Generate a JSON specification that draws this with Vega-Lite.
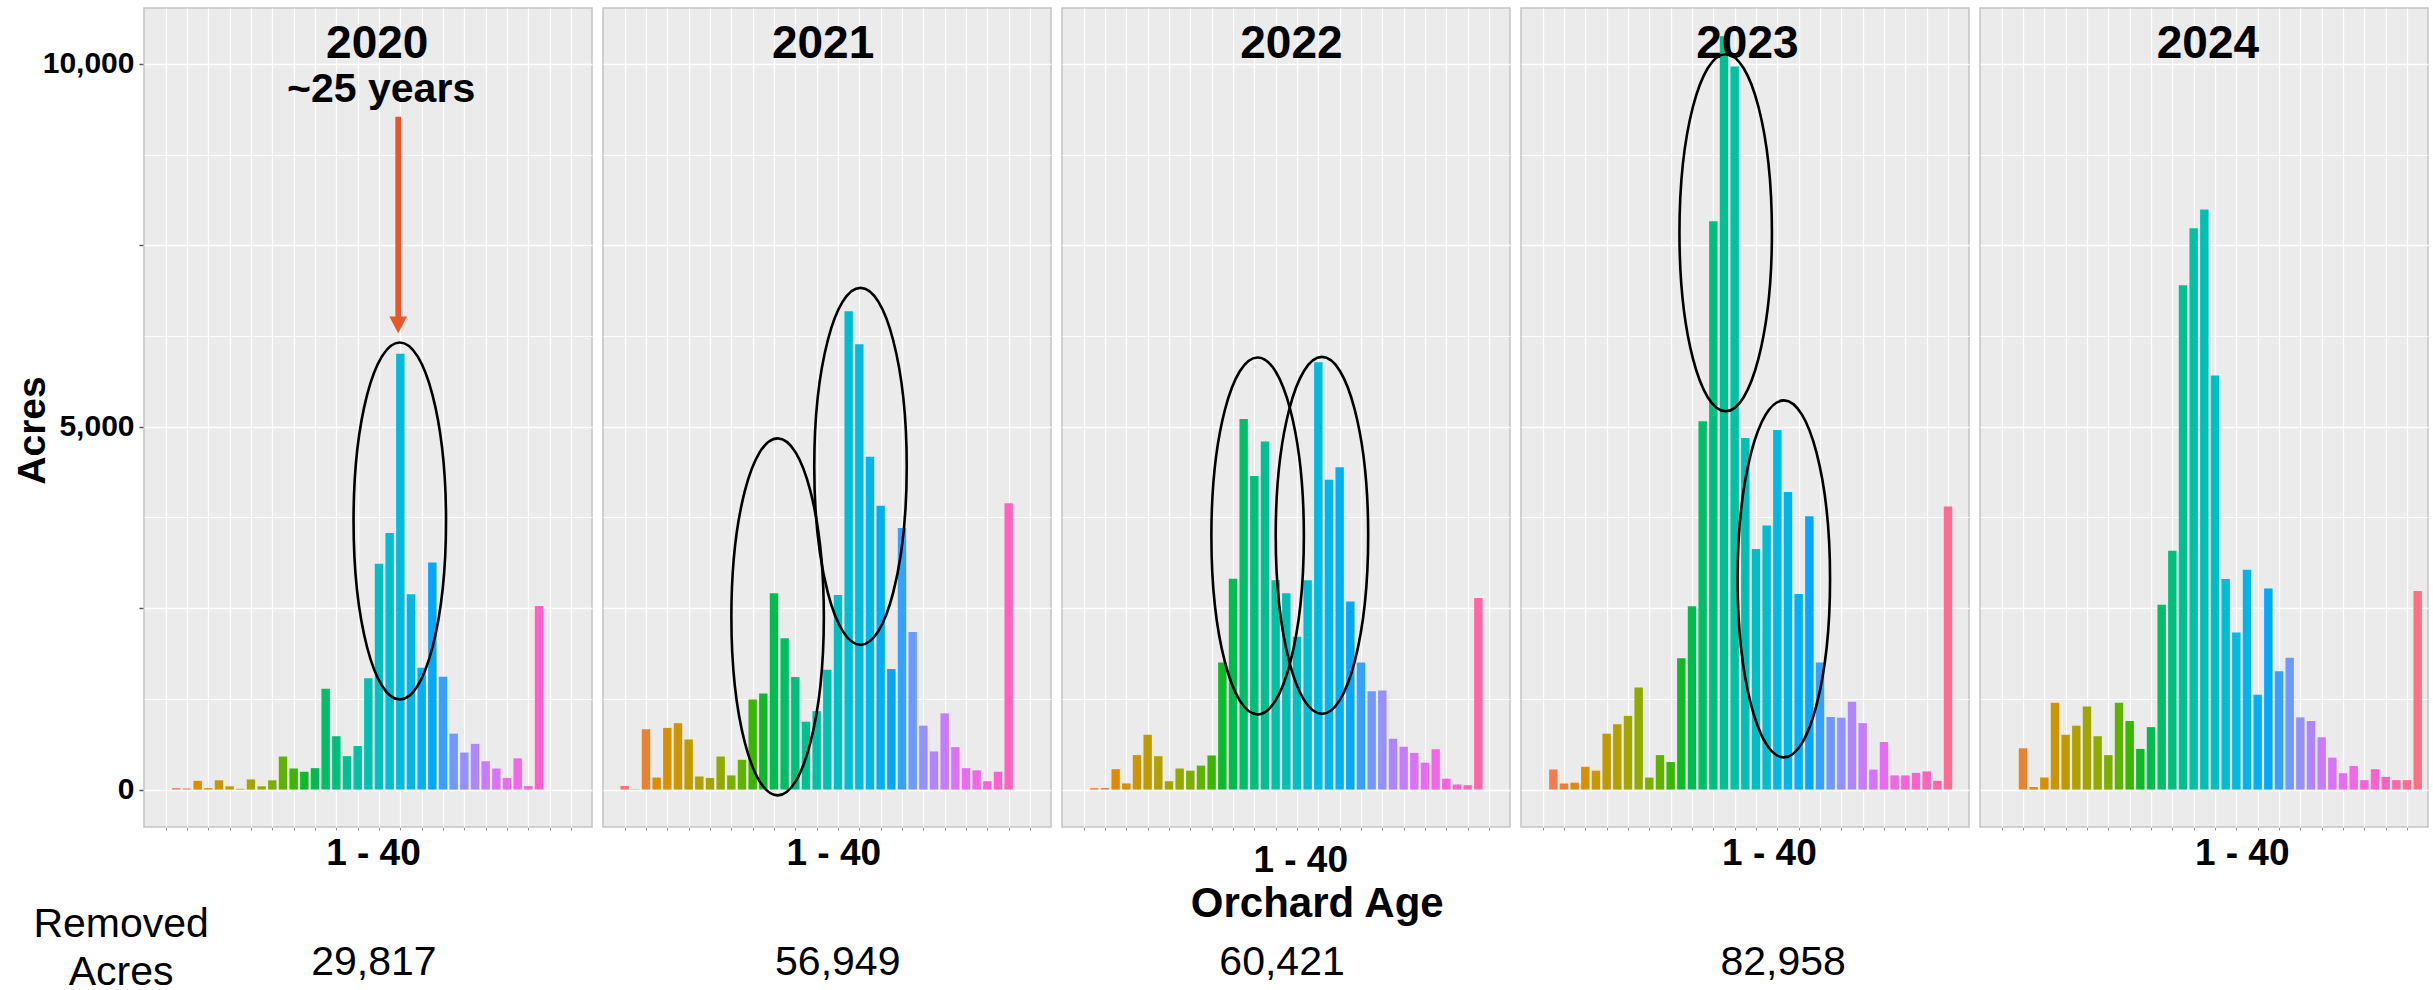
{
  "$schema": "https://vega.github.io/schema/vega-lite/v6.json",
  "background": "white",
  "padding": {"left": 13, "top": 7, "right": 0, "bottom": 0},
  "autosize": {"type": "pad"},
  "config": {
    "font": "Liberation Sans",
    "view": {"fill": "#EBEBEB", "stroke": "#C4C4C4", "strokeWidth": 1.5}
  },
  "data": {
    "values": [
      {"kind": "bar", "year": 2020, "age": 2, "acres": 20},
      {"kind": "bar", "year": 2020, "age": 3, "acres": 15},
      {"kind": "bar", "year": 2020, "age": 4, "acres": 120},
      {"kind": "bar", "year": 2020, "age": 5, "acres": 20},
      {"kind": "bar", "year": 2020, "age": 6, "acres": 128},
      {"kind": "bar", "year": 2020, "age": 7, "acres": 45},
      {"kind": "bar", "year": 2020, "age": 8, "acres": 10},
      {"kind": "bar", "year": 2020, "age": 9, "acres": 140},
      {"kind": "bar", "year": 2020, "age": 10, "acres": 45},
      {"kind": "bar", "year": 2020, "age": 11, "acres": 127},
      {"kind": "bar", "year": 2020, "age": 12, "acres": 455},
      {"kind": "bar", "year": 2020, "age": 13, "acres": 290},
      {"kind": "bar", "year": 2020, "age": 14, "acres": 245},
      {"kind": "bar", "year": 2020, "age": 15, "acres": 295},
      {"kind": "bar", "year": 2020, "age": 16, "acres": 1390},
      {"kind": "bar", "year": 2020, "age": 17, "acres": 735},
      {"kind": "bar", "year": 2020, "age": 18, "acres": 460},
      {"kind": "bar", "year": 2020, "age": 19, "acres": 600},
      {"kind": "bar", "year": 2020, "age": 20, "acres": 1535},
      {"kind": "bar", "year": 2020, "age": 21, "acres": 3110},
      {"kind": "bar", "year": 2020, "age": 22, "acres": 3535},
      {"kind": "bar", "year": 2020, "age": 23, "acres": 6005},
      {"kind": "bar", "year": 2020, "age": 24, "acres": 2690},
      {"kind": "bar", "year": 2020, "age": 25, "acres": 1680},
      {"kind": "bar", "year": 2020, "age": 26, "acres": 3130},
      {"kind": "bar", "year": 2020, "age": 27, "acres": 1555},
      {"kind": "bar", "year": 2020, "age": 28, "acres": 770},
      {"kind": "bar", "year": 2020, "age": 29, "acres": 510},
      {"kind": "bar", "year": 2020, "age": 30, "acres": 630},
      {"kind": "bar", "year": 2020, "age": 31, "acres": 390},
      {"kind": "bar", "year": 2020, "age": 32, "acres": 290},
      {"kind": "bar", "year": 2020, "age": 33, "acres": 160},
      {"kind": "bar", "year": 2020, "age": 34, "acres": 430},
      {"kind": "bar", "year": 2020, "age": 35, "acres": 48},
      {"kind": "bar", "year": 2020, "age": 36, "acres": 2530},

      {"kind": "bar", "year": 2021, "age": 1, "acres": 50},
      {"kind": "bar", "year": 2021, "age": 2, "acres": 5},
      {"kind": "bar", "year": 2021, "age": 3, "acres": 830},
      {"kind": "bar", "year": 2021, "age": 4, "acres": 165},
      {"kind": "bar", "year": 2021, "age": 5, "acres": 850},
      {"kind": "bar", "year": 2021, "age": 6, "acres": 915},
      {"kind": "bar", "year": 2021, "age": 7, "acres": 690},
      {"kind": "bar", "year": 2021, "age": 8, "acres": 180},
      {"kind": "bar", "year": 2021, "age": 9, "acres": 160},
      {"kind": "bar", "year": 2021, "age": 10, "acres": 455},
      {"kind": "bar", "year": 2021, "age": 11, "acres": 195},
      {"kind": "bar", "year": 2021, "age": 12, "acres": 410},
      {"kind": "bar", "year": 2021, "age": 13, "acres": 1240},
      {"kind": "bar", "year": 2021, "age": 14, "acres": 1325},
      {"kind": "bar", "year": 2021, "age": 15, "acres": 2705},
      {"kind": "bar", "year": 2021, "age": 16, "acres": 2085},
      {"kind": "bar", "year": 2021, "age": 17, "acres": 1550},
      {"kind": "bar", "year": 2021, "age": 18, "acres": 935},
      {"kind": "bar", "year": 2021, "age": 19, "acres": 1080},
      {"kind": "bar", "year": 2021, "age": 20, "acres": 1650},
      {"kind": "bar", "year": 2021, "age": 21, "acres": 2680},
      {"kind": "bar", "year": 2021, "age": 22, "acres": 6590},
      {"kind": "bar", "year": 2021, "age": 23, "acres": 6135},
      {"kind": "bar", "year": 2021, "age": 24, "acres": 4585},
      {"kind": "bar", "year": 2021, "age": 25, "acres": 3910},
      {"kind": "bar", "year": 2021, "age": 26, "acres": 1660},
      {"kind": "bar", "year": 2021, "age": 27, "acres": 3605},
      {"kind": "bar", "year": 2021, "age": 28, "acres": 2170},
      {"kind": "bar", "year": 2021, "age": 29, "acres": 880},
      {"kind": "bar", "year": 2021, "age": 30, "acres": 525},
      {"kind": "bar", "year": 2021, "age": 31, "acres": 1050},
      {"kind": "bar", "year": 2021, "age": 32, "acres": 585},
      {"kind": "bar", "year": 2021, "age": 33, "acres": 295},
      {"kind": "bar", "year": 2021, "age": 34, "acres": 265},
      {"kind": "bar", "year": 2021, "age": 35, "acres": 115},
      {"kind": "bar", "year": 2021, "age": 36, "acres": 245},
      {"kind": "bar", "year": 2021, "age": 37, "acres": 3945},

      {"kind": "bar", "year": 2022, "age": 2, "acres": 20},
      {"kind": "bar", "year": 2022, "age": 3, "acres": 20},
      {"kind": "bar", "year": 2022, "age": 4, "acres": 280},
      {"kind": "bar", "year": 2022, "age": 5, "acres": 85},
      {"kind": "bar", "year": 2022, "age": 6, "acres": 475},
      {"kind": "bar", "year": 2022, "age": 7, "acres": 755},
      {"kind": "bar", "year": 2022, "age": 8, "acres": 460},
      {"kind": "bar", "year": 2022, "age": 9, "acres": 115},
      {"kind": "bar", "year": 2022, "age": 10, "acres": 290},
      {"kind": "bar", "year": 2022, "age": 11, "acres": 260},
      {"kind": "bar", "year": 2022, "age": 12, "acres": 330},
      {"kind": "bar", "year": 2022, "age": 13, "acres": 470},
      {"kind": "bar", "year": 2022, "age": 14, "acres": 1750},
      {"kind": "bar", "year": 2022, "age": 15, "acres": 2905},
      {"kind": "bar", "year": 2022, "age": 16, "acres": 5105},
      {"kind": "bar", "year": 2022, "age": 17, "acres": 4320},
      {"kind": "bar", "year": 2022, "age": 18, "acres": 4795},
      {"kind": "bar", "year": 2022, "age": 19, "acres": 2885},
      {"kind": "bar", "year": 2022, "age": 20, "acres": 2705},
      {"kind": "bar", "year": 2022, "age": 21, "acres": 2105},
      {"kind": "bar", "year": 2022, "age": 22, "acres": 2885},
      {"kind": "bar", "year": 2022, "age": 23, "acres": 5890},
      {"kind": "bar", "year": 2022, "age": 24, "acres": 4270},
      {"kind": "bar", "year": 2022, "age": 25, "acres": 4440},
      {"kind": "bar", "year": 2022, "age": 26, "acres": 2590},
      {"kind": "bar", "year": 2022, "age": 27, "acres": 1750},
      {"kind": "bar", "year": 2022, "age": 28, "acres": 1355},
      {"kind": "bar", "year": 2022, "age": 29, "acres": 1365},
      {"kind": "bar", "year": 2022, "age": 30, "acres": 700},
      {"kind": "bar", "year": 2022, "age": 31, "acres": 590},
      {"kind": "bar", "year": 2022, "age": 32, "acres": 505},
      {"kind": "bar", "year": 2022, "age": 33, "acres": 370},
      {"kind": "bar", "year": 2022, "age": 34, "acres": 555},
      {"kind": "bar", "year": 2022, "age": 35, "acres": 150},
      {"kind": "bar", "year": 2022, "age": 36, "acres": 70},
      {"kind": "bar", "year": 2022, "age": 37, "acres": 60},
      {"kind": "bar", "year": 2022, "age": 38, "acres": 2640},

      {"kind": "bar", "year": 2023, "age": 2, "acres": 275},
      {"kind": "bar", "year": 2023, "age": 3, "acres": 85},
      {"kind": "bar", "year": 2023, "age": 4, "acres": 95},
      {"kind": "bar", "year": 2023, "age": 5, "acres": 315},
      {"kind": "bar", "year": 2023, "age": 6, "acres": 260},
      {"kind": "bar", "year": 2023, "age": 7, "acres": 770},
      {"kind": "bar", "year": 2023, "age": 8, "acres": 900},
      {"kind": "bar", "year": 2023, "age": 9, "acres": 1015},
      {"kind": "bar", "year": 2023, "age": 10, "acres": 1405},
      {"kind": "bar", "year": 2023, "age": 11, "acres": 165},
      {"kind": "bar", "year": 2023, "age": 12, "acres": 475},
      {"kind": "bar", "year": 2023, "age": 13, "acres": 380},
      {"kind": "bar", "year": 2023, "age": 14, "acres": 1810},
      {"kind": "bar", "year": 2023, "age": 15, "acres": 2525},
      {"kind": "bar", "year": 2023, "age": 16, "acres": 5075},
      {"kind": "bar", "year": 2023, "age": 17, "acres": 7830},
      {"kind": "bar", "year": 2023, "age": 18, "acres": 10380},
      {"kind": "bar", "year": 2023, "age": 19, "acres": 9965},
      {"kind": "bar", "year": 2023, "age": 20, "acres": 4845},
      {"kind": "bar", "year": 2023, "age": 21, "acres": 3315},
      {"kind": "bar", "year": 2023, "age": 22, "acres": 3640},
      {"kind": "bar", "year": 2023, "age": 23, "acres": 4955},
      {"kind": "bar", "year": 2023, "age": 24, "acres": 4100},
      {"kind": "bar", "year": 2023, "age": 25, "acres": 2695},
      {"kind": "bar", "year": 2023, "age": 26, "acres": 3765},
      {"kind": "bar", "year": 2023, "age": 27, "acres": 1750},
      {"kind": "bar", "year": 2023, "age": 28, "acres": 1000},
      {"kind": "bar", "year": 2023, "age": 29, "acres": 990},
      {"kind": "bar", "year": 2023, "age": 30, "acres": 1210},
      {"kind": "bar", "year": 2023, "age": 31, "acres": 915},
      {"kind": "bar", "year": 2023, "age": 32, "acres": 275},
      {"kind": "bar", "year": 2023, "age": 33, "acres": 655},
      {"kind": "bar", "year": 2023, "age": 34, "acres": 195},
      {"kind": "bar", "year": 2023, "age": 35, "acres": 195},
      {"kind": "bar", "year": 2023, "age": 36, "acres": 230},
      {"kind": "bar", "year": 2023, "age": 37, "acres": 250},
      {"kind": "bar", "year": 2023, "age": 38, "acres": 120},
      {"kind": "bar", "year": 2023, "age": 39, "acres": 3900},

      {"kind": "bar", "year": 2024, "age": 3, "acres": 570},
      {"kind": "bar", "year": 2024, "age": 4, "acres": 35},
      {"kind": "bar", "year": 2024, "age": 5, "acres": 165},
      {"kind": "bar", "year": 2024, "age": 6, "acres": 1195},
      {"kind": "bar", "year": 2024, "age": 7, "acres": 755},
      {"kind": "bar", "year": 2024, "age": 8, "acres": 880},
      {"kind": "bar", "year": 2024, "age": 9, "acres": 1145},
      {"kind": "bar", "year": 2024, "age": 10, "acres": 735},
      {"kind": "bar", "year": 2024, "age": 11, "acres": 475},
      {"kind": "bar", "year": 2024, "age": 12, "acres": 1195},
      {"kind": "bar", "year": 2024, "age": 13, "acres": 945},
      {"kind": "bar", "year": 2024, "age": 14, "acres": 560},
      {"kind": "bar", "year": 2024, "age": 15, "acres": 860},
      {"kind": "bar", "year": 2024, "age": 16, "acres": 2545},
      {"kind": "bar", "year": 2024, "age": 17, "acres": 3290},
      {"kind": "bar", "year": 2024, "age": 18, "acres": 6950},
      {"kind": "bar", "year": 2024, "age": 19, "acres": 7735},
      {"kind": "bar", "year": 2024, "age": 20, "acres": 7995},
      {"kind": "bar", "year": 2024, "age": 21, "acres": 5705},
      {"kind": "bar", "year": 2024, "age": 22, "acres": 2900},
      {"kind": "bar", "year": 2024, "age": 23, "acres": 2165},
      {"kind": "bar", "year": 2024, "age": 24, "acres": 3030},
      {"kind": "bar", "year": 2024, "age": 25, "acres": 1305},
      {"kind": "bar", "year": 2024, "age": 26, "acres": 2770},
      {"kind": "bar", "year": 2024, "age": 27, "acres": 1630},
      {"kind": "bar", "year": 2024, "age": 28, "acres": 1815},
      {"kind": "bar", "year": 2024, "age": 29, "acres": 995},
      {"kind": "bar", "year": 2024, "age": 30, "acres": 945},
      {"kind": "bar", "year": 2024, "age": 31, "acres": 720},
      {"kind": "bar", "year": 2024, "age": 32, "acres": 440},
      {"kind": "bar", "year": 2024, "age": 33, "acres": 225},
      {"kind": "bar", "year": 2024, "age": 34, "acres": 325},
      {"kind": "bar", "year": 2024, "age": 35, "acres": 130},
      {"kind": "bar", "year": 2024, "age": 36, "acres": 280},
      {"kind": "bar", "year": 2024, "age": 37, "acres": 175},
      {"kind": "bar", "year": 2024, "age": 38, "acres": 130},
      {"kind": "bar", "year": 2024, "age": 39, "acres": 130},
      {"kind": "bar", "year": 2024, "age": 40, "acres": 2735},

      {"kind": "year", "year": 2020, "label": "2020", "age": 20.84, "acres": 10081},
      {"kind": "year", "year": 2021, "label": "2021", "age": 19.6, "acres": 10081},
      {"kind": "year", "year": 2022, "label": "2022", "age": 20.48, "acres": 10081},
      {"kind": "year", "year": 2023, "label": "2023", "age": 20.2, "acres": 10081},
      {"kind": "year", "year": 2024, "label": "2024", "age": 20.34, "acres": 10081},

      {"kind": "agerange", "year": 2020, "label": "1 - 40", "age": 20.48, "acres": -1044},
      {"kind": "agerange", "year": 2021, "label": "1 - 40", "age": 20.61, "acres": -1044},
      {"kind": "agerange", "year": 2022, "label": "1 - 40", "age": 21.35, "acres": -1130},
      {"kind": "agerange", "year": 2023, "label": "1 - 40", "age": 22.26, "acres": -1044},
      {"kind": "agerange", "year": 2024, "label": "1 - 40", "age": 23.55, "acres": -1044},

      {"kind": "note", "year": 2020, "label": "~25 years", "age": 21.2, "acres": 9479},
      {"kind": "arrow", "year": 2020, "age": 22.8, "acres": 9272, "acres_end": 6403},

      {"kind": "ellipse", "year": 2020, "age": 22.95, "acres": 3700},
      {"kind": "ellipse", "year": 2021, "age": 15.34, "acres": 2380},
      {"kind": "ellipse", "year": 2021, "age": 23.11, "acres": 4453},
      {"kind": "ellipse", "year": 2022, "age": 17.31, "acres": 3495},
      {"kind": "ellipse", "year": 2022, "age": 23.34, "acres": 3502},
      {"kind": "ellipse", "year": 2023, "age": 18.16, "acres": 7673},
      {"kind": "ellipse", "year": 2023, "age": 23.61, "acres": 2903},

      {"kind": "removed", "year": 2020, "label": "29,817", "age": 20.52, "acres": -2550},
      {"kind": "removed", "year": 2021, "label": "56,949", "age": 20.98, "acres": -2550},
      {"kind": "removed", "year": 2022, "label": "60,421", "age": 19.6, "acres": -2550},
      {"kind": "removed", "year": 2023, "label": "82,958", "age": 23.55, "acres": -2550},
      {"kind": "removedLabel", "year": 2020, "label": "Removed\nAcres", "age": -3.17, "acres": -2026},
      {"kind": "xTitle", "year": 2022, "label": "Orchard Age", "age": 22.9, "acres": -1755}
    ]
  },
  "facet": {
    "column": {"field": "year", "type": "ordinal", "header": {"labels": false, "title": null}}
  },
  "spacing": 11,
  "bounds": "flush",
  "spec": {
    "width": 448,
    "height": 819,
    "encoding": {
      "x": {
        "field": "age", "type": "quantitative",
        "scale": {"domain": [-0.56, 40.5], "nice": false, "zero": false},
        "axis": {
          "values": [1, 3, 5, 7, 9, 11, 13, 15, 17, 19, 21, 23, 25, 27, 29, 31, 33, 35, 37, 39],
          "labels": false,
          "ticks": true, "tickSize": 3, "tickColor": "#8A8A8A", "tickWidth": 1,
          "domain": false,
          "grid": true, "gridColor": "#FFFFFF", "gridWidth": 1.2,
          "title": null
        }
      },
      "y": {
        "field": "acres", "type": "quantitative",
        "scale": {"domain": [-516, 10770], "nice": false, "zero": false},
        "axis": {
          "title": "Acres", "titleFontSize": 39, "titleFontWeight": "bold", "titleColor": "#000000",
          "titlePadding": -10, "titleY": 422,
          "values": [0, 1250, 2500, 3750, 5000, 6250, 7500, 8750, 10000],
          "labelExpr": "datum.value % 5000 === 0 ? format(datum.value, ',') : ''",
          "labelFontSize": 30, "labelFontWeight": "bold", "labelColor": "#000000", "labelPadding": 5,
          "labelOverlap": false, "labelFlush": false,
          "tickSize": 5, "tickColor": "#555555", "tickWidth": 1.5,
          "tickOpacity": {"condition": {"test": "datum.value % 2500 === 0", "value": 1}, "value": 0},
          "domain": false,
          "grid": true, "gridColor": "#FFFFFF",
          "gridWidth": {"condition": {"test": "datum.value % 2500 === 0", "value": 1.6}, "value": 0.9}
        }
      }
    },
    "layer": [
      {
        "transform": [{"filter": "datum.kind === 'bar'"}],
        "mark": {"type": "bar", "size": 8.4},
        "encoding": {
          "color": {
            "field": "age", "type": "ordinal", "legend": null,
            "scale": {
              "domain": [1,2,3,4,5,6,7,8,9,10,11,12,13,14,15,16,17,18,19,20,21,22,23,24,25,26,27,28,29,30,31,32,33,34,35,36,37,38,39,40],
              "range": ["#F8766D","#F17D50","#EA8331","#E18A00","#D89000","#CD9600","#C09B00","#B1A000","#A3A500","#91AA00","#7CAE00","#60B200","#39B600","#0EB92A","#00BB4E","#00BE67","#00BF7D","#00C092","#00C1A3","#00C0B4","#00BFC4","#00BDD2","#00BAE0","#00B5EC","#00B0F6","#00A9FF","#35A2FF","#6F99FF","#9590FF","#AF86FF","#C77CFF","#D973FC","#E76BF3","#F266E8","#FA62DB","#FF61CC","#FF62BC","#FF66A8","#FF6C91","#FC717F"]
            }
          }
        }
      },
      {
        "transform": [{"filter": "datum.kind === 'ellipse'"}],
        "mark": {
          "type": "point",
          "shape": "M0,-1C0.143,-1,0.259,-0.552,0.259,0C0.259,0.552,0.143,1,0,1C-0.143,1,-0.259,0.552,-0.259,0C-0.259,-0.552,-0.143,-1,0,-1Z",
          "size": 127449, "filled": false, "stroke": "#000000", "strokeWidth": 2.6, "opacity": 1
        }
      },
      {
        "transform": [{"filter": "datum.kind === 'arrow'"}],
        "mark": {"type": "rule", "color": "#E8562A", "strokeWidth": 5.7},
        "encoding": {"y2": {"field": "acres_end"}}
      },
      {
        "transform": [{"filter": "datum.kind === 'arrow'"}],
        "mark": {"type": "point", "shape": "M-1,-0.95L1,-0.95L0,0.95Z", "size": 313, "filled": true, "color": "#E8562A", "opacity": 1, "strokeWidth": 0},
        "encoding": {"y": {"field": "acres_end", "type": "quantitative"}}
      },
      {
        "transform": [{"filter": "datum.kind === 'year'"}],
        "mark": {"type": "text", "fontSize": 46, "fontWeight": "bold", "align": "center", "baseline": "alphabetic", "color": "#000000"},
        "encoding": {"text": {"field": "label"}}
      },
      {
        "transform": [{"filter": "datum.kind === 'agerange'"}],
        "mark": {"type": "text", "fontSize": 37, "fontWeight": "bold", "align": "center", "baseline": "alphabetic", "color": "#000000"},
        "encoding": {"text": {"field": "label"}}
      },
      {
        "transform": [{"filter": "datum.kind === 'note'"}],
        "mark": {"type": "text", "fontSize": 41, "fontWeight": "bold", "align": "center", "baseline": "alphabetic", "color": "#000000"},
        "encoding": {"text": {"field": "label"}}
      },
      {
        "transform": [{"filter": "datum.kind === 'removed'"}],
        "mark": {"type": "text", "fontSize": 41, "align": "center", "baseline": "alphabetic", "color": "#000000"},
        "encoding": {"text": {"field": "label"}}
      },
      {
        "transform": [{"filter": "datum.kind === 'removedLabel'"}],
        "mark": {"type": "text", "fontSize": 41, "align": "center", "baseline": "alphabetic", "lineBreak": "\n", "lineHeight": 48, "color": "#000000"},
        "encoding": {"text": {"field": "label"}}
      },
      {
        "transform": [{"filter": "datum.kind === 'xTitle'"}],
        "mark": {"type": "text", "fontSize": 42, "fontWeight": "bold", "align": "center", "baseline": "alphabetic", "color": "#000000"},
        "encoding": {"text": {"field": "label"}}
      }
    ]
  }
}
